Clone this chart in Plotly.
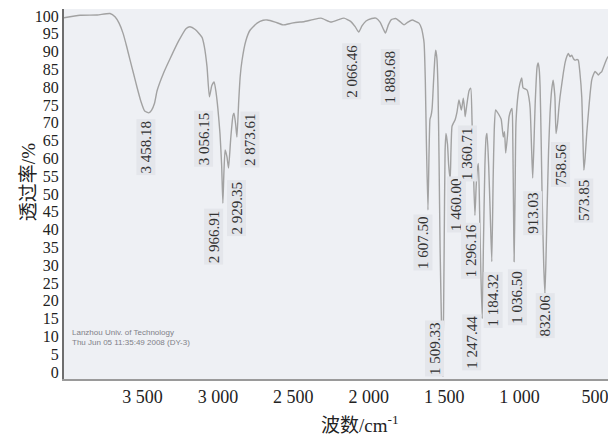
import numpy as np
import plotly.graph_objects as go

# IR spectrum, wavenumber (cm-1) and transmittance (%)
WN = [4020, 3914, 3800, 3715, 3682, 3655, 3629, 3605, 3582, 3560, 3536, 3510, 3485,
      3458.18, 3440, 3420, 3403, 3360, 3317, 3260, 3210, 3185, 3150, 3105, 3090, 3072,
      3056.15, 3040, 3025, 3012, 3000, 2986, 2975, 2966.91, 2960, 2952, 2940, 2929.35,
      2915, 2900, 2893, 2882, 2873.61, 2862, 2852, 2840, 2815, 2787, 2740, 2700, 2674,
      2620, 2568, 2510, 2455, 2429, 2370, 2316, 2250, 2200, 2164, 2120, 2090, 2066.46,
      2045, 2018, 1980, 1952, 1925, 1905, 1889.68, 1870, 1850, 1821, 1795, 1766, 1740,
      1711, 1690, 1667, 1650, 1640, 1633, 1625, 1618, 1607.50, 1600, 1594, 1587, 1580,
      1570, 1562, 1556, 1548, 1541, 1534, 1527, 1509.33, 1500, 1494, 1488, 1478, 1470,
      1460.00, 1455, 1448, 1438, 1428, 1415, 1402, 1386, 1373, 1365, 1360.71, 1350, 1335,
      1324, 1315, 1305, 1296.16, 1288, 1280, 1273, 1265, 1257, 1247.44, 1240, 1230, 1222,
      1216, 1205, 1195, 1184.32, 1175, 1168, 1159, 1148, 1136, 1122, 1108, 1100, 1092,
      1081, 1070, 1058, 1050, 1045, 1040, 1036.50, 1030, 1024, 1010, 998, 986, 977, 962,
      950, 938, 930, 920, 913.03, 905, 897, 884, 877, 870, 864, 857, 851, 840, 832.06,
      825, 818, 808, 798, 788, 778, 766, 758.56, 748, 740, 732, 720, 710, 698, 687, 677,
      666, 654, 643, 632, 620, 611, 600, 588, 580, 573.85, 566, 555, 544, 533, 522, 511,
      500, 489, 478, 466, 455, 445, 434, 424, 414]
TRANS = [99.5, 100.2, 100.3, 100.7, 99.8, 98.0, 95.2, 91.5, 87.6, 84.0, 80.0, 76.0, 73.3,
         72.8, 73.5, 75.5, 79.0, 84.0, 88.0, 93.0, 96.5, 97.0, 96.2, 94.0, 91.5, 85.8,
         77.3, 80.5, 81.5, 78.5, 74.0, 67.0, 58.0, 47.4, 56.0, 62.4, 60.5, 57.3,
         65.5, 72.0, 72.7, 69.5, 66.0, 76.0, 83.0, 87.5, 93.0, 96.0, 98.0, 98.8, 98.9,
         98.3, 97.5, 98.0, 98.3, 98.4, 99.0, 99.4, 98.3, 99.0, 99.4, 98.5, 97.0, 95.5,
         97.2, 98.6, 99.3, 99.4, 98.3, 96.5, 95.2, 97.5, 99.0, 99.3, 98.5, 97.5, 98.3,
         98.9, 98.5, 98.0, 96.5, 94.5, 92.4, 82.0, 65.0, 45.5, 62.0, 71.0, 72.0, 74.0,
         82.0, 88.0, 90.4, 88.0, 80.0, 60.0, 35.0, -1.2, 35.0, 62.0, 67.0, 64.0, 58.0,
         54.0, 62.0, 69.0, 70.0, 70.8, 73.0, 76.4, 73.6, 76.9, 74.0, 71.7, 75.0, 79.0,
         79.7, 70.0, 55.0, 44.0, 52.0, 57.0, 58.6, 45.0, 28.0, 15.0, 35.0, 58.0, 66.0,
         67.0, 58.0, 45.0, 31.0, 55.0, 68.0, 73.6, 73.0, 72.2, 71.0, 66.0, 67.5, 61.5,
         66.0, 71.7, 73.5, 74.0, 65.0, 45.0, 31.0, 50.0, 70.0, 78.0, 81.0, 82.6, 79.8, 79.5,
         79.2, 77.0, 74.0, 62.0, 54.5, 64.0, 75.0, 85.7, 86.8, 85.0, 80.0, 65.0, 50.0, 30.0, 22.0,
         32.0, 45.0, 62.0, 72.8, 79.0, 82.0, 77.3, 67.0, 70.0, 74.0, 77.3, 81.0, 84.0, 87.0, 88.6, 89.5,
         88.6, 89.0, 88.0, 87.6, 87.8, 87.6, 84.0, 77.3, 65.0, 56.7, 60.0, 67.0, 72.7, 78.0, 82.0, 83.5,
         84.4, 84.0, 83.4, 84.0, 84.4, 85.5, 86.7, 87.8, 88.6]

PEAK_WN = [3458.18, 3056.15, 2966.91, 2929.35, 2873.61, 2066.46, 1889.68, 1607.50,
           1509.33, 1460.00, 1360.71, 1296.16, 1247.44, 1184.32, 1036.50, 913.03,
           832.06, 758.56, 573.85]
PEAK_TEXT = ["3 458.18", "3 056.15", "2 966.91", "2 929.35", "2 873.61", "2 066.46",
             "1 889.68", "1 607.50", "1 509.33", "1 460.00", "1 360.71", "1 296.16",
             "1 247.44", "1 184.32", "1 036.50", "913.03", "832.06", "758.56", "573.85"]

X_TICKS = [3500, 3000, 2500, 2000, 1500, 1000, 500]
X_TICK_TEXT = ["3 500", "3 000", "2 500", "2 000", "1 500", "1 000", "500"]
Y_TICKS = list(range(0, 101, 5))

# label offsets (pixels) from the peak tip to the centre of its label
LABEL_SHIFT = [(-3, -34), (-6, -42), (-9, -33), (8, -40), (13, -2), (-7, -39),
               (5, -44), (-5, -32), (-8, 28), (6, -25), (2, -37), (-4, -35),
               (-11, -24), (1, -38), (3, -36), (0, -35), (0, -22), (5, -31), (0, -30)]

SERIF = "Liberation Serif, Times New Roman, serif"

fig = go.Figure()
fig.add_trace(go.Scatter(
    x=WN, y=TRANS, mode="lines",
    line=dict(color="#a2a2a2", width=1.4, shape="spline", smoothing=0.5),
    hoverinfo="skip", showlegend=False))

wn_arr = np.array(WN)[::-1]
tr_arr = np.array(TRANS)[::-1]
annotations = []
for wn, txt, (dx, dy) in zip(PEAK_WN, PEAK_TEXT, LABEL_SHIFT):
    t = float(np.interp(wn, wn_arr, tr_arr))
    annotations.append(dict(
        x=wn, y=t, xref="x", yref="y", text=txt, showarrow=False,
        textangle=-90, xanchor="center", yanchor="middle",
        xshift=dx, yshift=dy, bgcolor="#e4e6eb", borderpad=1,
        font=dict(family=SERIF, size=15, color="#333333")))

annotations.append(dict(
    x=0.544, y=-0.1216, xref="paper", yref="paper",
    text="波数/cm<sup>-1</sup>", showarrow=False,
    xanchor="center", yanchor="middle",
    font=dict(family="Liberation Serif, Noto Sans CJK SC", size=19, color="#222222")))
annotations.append(dict(
    x=-0.0662, y=0.532, xref="paper", yref="paper",
    text="透过率/%", showarrow=False, textangle=-90,
    xanchor="center", yanchor="middle",
    font=dict(family="Liberation Serif, Noto Sans CJK SC", size=19, color="#222222")))
annotations.append(dict(
    x=0.011, y=0.1135, xref="paper", yref="paper",
    text="Lanzhou Univ. of Technology<br>Thu Jun 05 11:35:49 2008 (DY-3)",
    showarrow=False, xanchor="left", yanchor="middle", align="left",
    font=dict(family="Liberation Sans, Arial, sans-serif", size=8, color="#808088")))

fig.update_layout(
    width=608, height=435,
    margin=dict(l=64, r=0, t=9, b=56, autoexpand=False),
    paper_bgcolor="white", plot_bgcolor="#eef0f4",
    annotations=annotations,
    xaxis=dict(range=[4020, 414], tickvals=X_TICKS, ticktext=X_TICK_TEXT,
               showgrid=False, zeroline=False, showline=True, automargin=False,
               ticklabeloverflow="allow",
               linecolor="#9a9a9a", linewidth=2, ticks="",
               tickfont=dict(family=SERIF, size=18, color="#222222")),
    yaxis=dict(range=[-1.97, 101.97], tickvals=Y_TICKS,
               showgrid=False, zeroline=False, showline=True, automargin=False,
               ticklabeloverflow="allow",
               linecolor="#6e6e6e", linewidth=2, ticks="",
               tickfont=dict(family=SERIF, size=16, color="#222222")),
)

# remove the browser's default 8 px body margin so the figure fills the window
fig.write_html("out.html", config={"displayModeBar": False},
               post_script="document.body.style.margin='0px';")
